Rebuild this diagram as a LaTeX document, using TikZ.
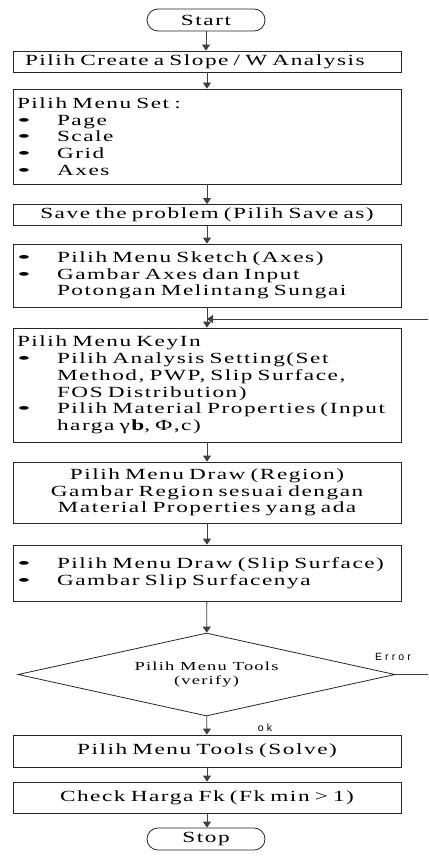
\documentclass[tikz,border=0pt]{standalone}
\usepackage{fontspec}
\usepackage{graphicx}
\setmainfont{Liberation Serif}[FakeStretch=1.5,LetterSpace=10]
\newfontfamily\labfont{Liberation Sans}[LetterSpace=30]
\usetikzlibrary{arrows.meta,shapes.geometric}
\newlength\bulw
\setlength\bulw{40pt}
\newcommand\bl[1]{\makebox[\bulw][l]{\scalebox{1.7}[1]{•}}#1}
\newcommand\cl[1]{\hspace*{\bulw}#1}
\tikzset{
  box/.style={draw=black!85, line width=0.8pt, text width=380pt, inner xsep=4pt, inner ysep=2pt,
    font=\fontsize{15.5}{16.7}\selectfont, align=left},
  cbox/.style={box, align=center},
  term/.style={draw=black!85, line width=0.8pt, rounded corners=11pt, minimum width=118pt,
    minimum height=22pt, inner sep=0pt, font=\fontsize{15.5}{16.7}\selectfont},
  dec/.style={draw=black!85, line width=0.8pt, diamond, aspect=4.5, inner sep=0pt,
    minimum width=377pt, minimum height=83pt, align=center, font=\fontsize{12.3}{14}\selectfont},
  conn/.style={draw=black!75, line width=0.8pt, -{Triangle[width=8pt,length=6pt]}},
  plain/.style={draw=black!75, line width=0.8pt},
  lab/.style={font=\labfont\fontsize{10.5}{11}\selectfont, inner sep=0pt}
}
\begin{document}
\begin{tikzpicture}[x=1pt,y=-1pt]
\useasboundingbox (0,0) rectangle (428,861);
\node[term] (start) at (206,20) {Start};
\node[box, minimum height=21pt] (b1) at (207,61.5) {\hspace*{8pt}Pilih Create a Slope / W Analysis};
\node[box, minimum height=95pt] (b2) at (207,136.5) {Pilih Menu Set :\\ \bl{Page}\\ \bl{Scale}\\ \bl{Grid}\\ \bl{Axes}};
\node[cbox, minimum height=21pt] (b3) at (207,215) {Save the problem (Pilih Save as)};
\node[box, minimum height=63pt] (b4) at (207,275.5) {\bl{Pilih Menu Sketch (Axes)}\\ \bl{Gambar Axes dan Input}\\ \cl{Potongan Melintang Sungai}};
\node[box, minimum height=114pt] (b5) at (207,385) {Pilih Menu KeyIn\\ \bl{Pilih Analysis Setting(Set}\\ \cl{Method, PWP, Slip Surface,}\\ \cl{FOS Distribution)}\\ \bl{Pilih Material Properties (Input}\\ \cl{harga γ\textbf{b}, Φ,c)}};
\node[cbox, minimum height=61pt] (b6) at (207,492.5) {Pilih Menu Draw (Region)\\ Gambar Region sesuai dengan\\ Material Properties yang ada};
\node[box, minimum height=56pt] (b7) at (207,573) {\bl{Pilih Menu Draw (Slip Surface)}\\ \bl{Gambar Slip Surfacenya}};
\node[dec] (d) at (206.5,674.5) {Pilih Menu Tools\\ (verify)};
\node[cbox, minimum height=32pt] (b8) at (207,751) {Pilih Menu Tools (Solve)};
\node[cbox, minimum height=31pt] (b9) at (207,797.5) {Check Harga Fk (Fk min \textgreater{} 1)};
\node[term] (stop) at (206,839) {Stop};
\node[lab] (err) at (393,657) {Error};
\node[lab] (ok) at (265,728) {ok};
\coordinate (loopin) at (428,319);
\coordinate (loopend) at (207,319);
\coordinate (errout) at (428,674.5);
\draw[conn] (start) -- (b1.north -| start);
\draw[conn] (b1) -- (b2);
\draw[conn] (b2) -- (b3);
\draw[conn] (b3) -- (b4);
\draw[conn] (b4) -- (b5);
\draw[conn] (loopin) -- (loopend);
\draw[conn] (b5) -- (b6);
\draw[conn] (b6) -- (b7);
\draw[conn] (b7) -- (d);
\draw[plain] (d.east) -- (errout);
\draw[conn] (d) -- (b8);
\draw[conn] (b8) -- (b9);
\draw[conn] (b9) -- (stop.north -| b9);
\end{tikzpicture}
\end{document}
